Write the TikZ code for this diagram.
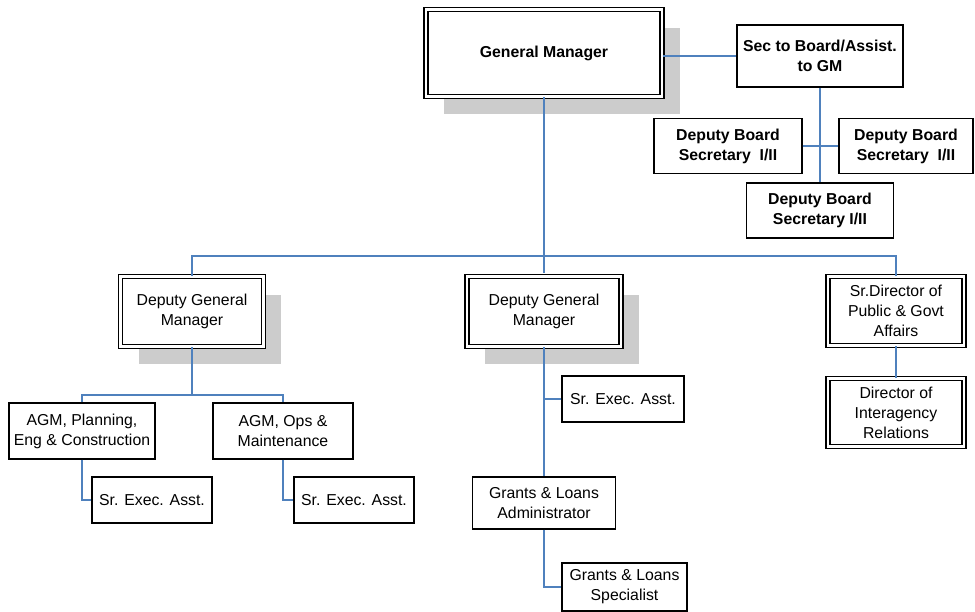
\documentclass[tikz,border=0pt]{standalone}
\usepackage{fontspec}
\setmainfont{Liberation Sans}
\usetikzlibrary{shadows}
\definecolor{lblue}{RGB}{79, 129, 189}
\definecolor{sgray}{RGB}{204, 204, 204}
\tikzset{box/.style = {draw, fill = white, line width = 0.8, align = center, inner sep = 0, font = \fontsize{9}{11.3}\selectfont}}
\tikzset{dbox/.style = {box, double, line width = 0.85, double distance = 1.3}}
\tikzset{shad/.style = {drop shadow = {shadow xshift = 0.36cm, shadow yshift = -0.36cm, fill = sgray, opacity = 1}}}
\tikzset{conn/.style = {lblue, line width = 0.9}}

\begin{document}
\begin{tikzpicture}[x = 0.02cm, y = -0.02cm]
    \useasboundingbox (0, 0) rectangle (975, 612);

    \node [dbox, shad, minimum width = 4.72cm, minimum height = 1.74cm] (gm) at (544, 53) {\textbf{General Manager}};
    \node [box, minimum width = 3.32cm, minimum height = 1.24cm] (sec) at (820, 56) {\textbf{Sec to Board/Assist.}\\\textbf{to GM}};
    \node [box, minimum width = 2.96cm, minimum height = 1.1cm] (dbsA) at (728, 146) {\textbf{Deputy Board}\\\textbf{Secretary\ \ I/II}};
    \node [box, minimum width = 2.68cm, minimum height = 1.1cm] (dbsB) at (906, 146) {\textbf{Deputy Board}\\\textbf{Secretary\ \ I/II}};
    \node [box, minimum width = 2.94cm, minimum height = 1.1cm] (dbsC) at (820, 210.5) {\textbf{Deputy Board}\\\textbf{Secretary I/II}};

    \node [dbox, shad, minimum width = 2.86cm, minimum height = 1.4cm] (dgmA) at (192, 311.5) {Deputy General\\Manager};
    \node [dbox, shad, minimum width = 3.08cm, minimum height = 1.4cm] (dgmB) at (544, 311.5) {Deputy General\\Manager};
    \node [dbox, minimum width = 2.72cm, minimum height = 1.38cm] (sdir) at (896, 311) {Sr.Director of\\Public \& Govt\\Affairs};
    \node [dbox, minimum width = 2.72cm, minimum height = 1.36cm] (dir) at (896, 412.5) {Director of\\Interagency\\Relations};

    \node [box, minimum width = 2.92cm, minimum height = 1.12cm] (agmA) at (82, 431) {AGM, Planning,\\Eng \& Construction};
    \node [box, minimum width = 2.8cm, minimum height = 1.12cm] (agmB) at (283, 431) {AGM, Ops \&\\Maintenance};
    \node [box, minimum width = 2.4cm, minimum height = 0.92cm] (seaA) at (152, 500) {Sr. Exec. Asst.};
    \node [box, minimum width = 2.4cm, minimum height = 0.92cm] (seaB) at (354, 500) {Sr. Exec. Asst.};
    \node [box, minimum width = 2.44cm, minimum height = 0.92cm] (seaM) at (623, 399) {Sr. Exec. Asst.};
    \node [box, minimum width = 2.86cm, minimum height = 1.04cm] (gla) at (544, 503) {Grants \& Loans\\Administrator};
    \node [box, minimum width = 2.5cm, minimum height = 0.96cm] (gls) at (624.5, 587) {Grants \& Loans\\Specialist};

    \coordinate (bus) at (544, 256);
    \coordinate (subbus) at (192, 395);

    \draw [conn] (gm.east |- sec.west) -- (sec.west);
    \draw [conn] (sec.south) -- (dbsC.north);
    \draw [conn] (dbsA.east) -- (dbsB.west);
    \draw [conn] (gm.south) -- ([yshift = 0.06cm] dgmB.north);
    \draw [conn] (dgmA.north) |- (bus) -| (sdir.north);
    \draw [conn] (sdir.south) -- (dir.north);
    \draw [conn] (dgmA.south) -- (subbus);
    \draw [conn] (agmA.north) |- (subbus) -| (agmB.north);
    \draw [conn] (agmA.south) |- (seaA.west);
    \draw [conn] (agmB.south) |- (seaB.west);
    \draw [conn] (dgmB.south) -- (gla.north);
    \draw [conn] (seaM.west) -- (seaM.west -| dgmB.south);
    \draw [conn] (gla.south) |- (gls.west);
\end{tikzpicture}
\end{document}
